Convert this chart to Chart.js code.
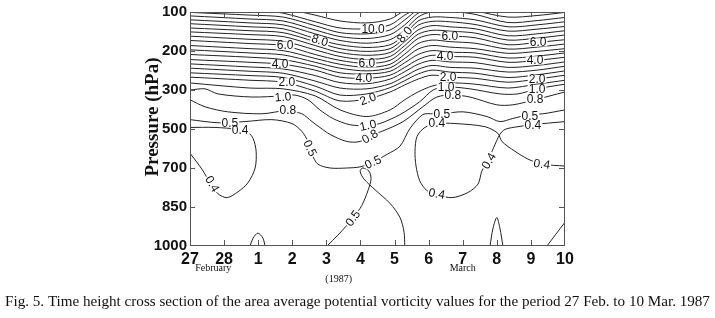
<!DOCTYPE html>
<html>
<head>
<meta charset="utf-8">
<script src="https://cdn.jsdelivr.net/npm/chart.js@4.4.0/dist/chart.umd.min.js"></script>
<style>
  html, body { margin: 0; padding: 0; background: #fff; }
  #wrap { width: 715px; height: 318px; }
</style>
</head>
<body>
<div id="wrap"><canvas id="pvChart" width="715" height="318"></canvas></div>
<script>
// ========== AXIS LABELS ==========
const dayLabels = ['27', '28', '1', '2', '3', '4', '5', '6', '7', '8', '9', '10'];
const pressureLabels = ['1000', '850', '700', '500', '300', '200', '100'];

// ========== UPPER CONTOURS (1.5 .. 10.5, step 0.5) ==========
// day index (0 = 27 Feb) shared by the upper contours
const upperX = [0, 1.76, 2.73, 3.67, 4.40, 5.19, 5.87, 6.30, 6.69, 7.10, 7.62, 8.36, 9.33, 10.18, 11];
// level index at upperX (0 = 1000 hPa ... 6 = 100 hPa)
const pv15 = [4.18, 4.05, 4.03, 3.85, 3.49, 3.32, 3.49, 3.75, 3.95, 4.10, 4.18, 4.15, 4.05, 4.15, 4.25];
const pv20 = [4.33, 4.25, 4.20, 3.97, 3.72, 3.77, 3.95, 4.13, 4.28, 4.38, 4.33, 4.30, 4.20, 4.28, 4.38];
const pv25 = [4.44, 4.37, 4.32, 4.10, 3.87, 3.90, 4.06, 4.24, 4.41, 4.51, 4.46, 4.43, 4.32, 4.39, 4.49];
const pv30 = [4.56, 4.48, 4.43, 4.23, 4.05, 4.03, 4.16, 4.35, 4.53, 4.63, 4.58, 4.56, 4.46, 4.51, 4.61];
const pv35 = [4.67, 4.59, 4.54, 4.37, 4.19, 4.16, 4.28, 4.47, 4.66, 4.76, 4.72, 4.70, 4.58, 4.63, 4.72];
const pv40 = [4.78, 4.71, 4.66, 4.51, 4.33, 4.30, 4.38, 4.58, 4.78, 4.89, 4.86, 4.84, 4.71, 4.76, 4.84];
const pv45 = [4.91, 4.84, 4.78, 4.61, 4.44, 4.41, 4.48, 4.70, 4.91, 5.01, 4.97, 4.95, 4.82, 4.87, 4.95];
const pv50 = [5.03, 4.95, 4.90, 4.71, 4.56, 4.49, 4.57, 4.81, 5.05, 5.14, 5.10, 5.06, 4.94, 4.99, 5.06];
const pv55 = [5.14, 5.06, 5.01, 4.81, 4.66, 4.58, 4.66, 4.92, 5.19, 5.28, 5.24, 5.20, 5.05, 5.10, 5.18];
const pv60 = [5.27, 5.19, 5.14, 4.91, 4.76, 4.68, 4.76, 5.04, 5.32, 5.42, 5.39, 5.34, 5.16, 5.22, 5.29];
const pv65 = [5.38, 5.30, 5.25, 5.03, 4.86, 4.78, 4.86, 5.14, 5.43, 5.53, 5.51, 5.46, 5.28, 5.33, 5.41];
const pv70 = [5.49, 5.42, 5.37, 5.14, 4.96, 4.89, 4.96, 5.24, 5.54, 5.65, 5.62, 5.57, 5.39, 5.44, 5.52];
const pv75 = [5.59, 5.52, 5.47, 5.24, 5.06, 4.99, 5.06, 5.34, 5.66, 5.76, 5.75, 5.68, 5.51, 5.56, 5.63];
const pv80 = [5.70, 5.62, 5.57, 5.32, 5.16, 5.09, 5.16, 5.42, 5.77, 5.87, 5.86, 5.80, 5.62, 5.67, 5.75];
const pv85 = [5.80, 5.72, 5.67, 5.44, 5.27, 5.20, 5.29, 5.54, 5.87, 6.01, 6.02, 5.94, 5.73, 5.78, 5.86];
const pv90 = [5.90, 5.82, 5.77, 5.54, 5.37, 5.32, 5.42, 5.67, 5.97, 6.08, null, 6.03, 5.87, 5.91, 5.99];
const pv95 = [5.99, 5.92, 5.87, 5.65, 5.47, 5.44, 5.54, 5.80, 6.08, null, null, null, null, null, null];
const pv100 = [6.18, 6.08, 5.97, 5.75, 5.59, 5.57, 5.67, 5.92, 6.10, null, null, null, null, null, null];
const pv105 = [null, null, 6.10, 5.92, 5.77, 5.72, 5.82, 6.05, null, null, null, null, null, null, null];

// ========== LOWER CONTOURS [day index, level index] ==========
const pv10 = [[0, 4.0], [0.44, 4.03], [0.82, 3.90], [1.82, 3.82], [2.73, 3.85], [3.08, 3.87], [3.46, 3.75],
  [3.81, 3.49], [4.19, 3.27], [4.69, 3.11], [5.22, 3.09], [5.57, 3.14], [6.16, 3.37], [6.74, 3.70],
  [7.13, 4.0], [7.51, 4.08], [8.21, 4.03], [9.09, 3.90], [9.62, 3.90], [10.18, 4.03], [11, 4.15]];
const pv08 = [[0, 3.75], [0.44, 3.57], [1.11, 3.44], [2.11, 3.39], [2.84, 3.47], [3.28, 3.39], [3.58, 3.19],
  [3.81, 3.04], [4.11, 2.86], [4.60, 2.68], [4.99, 2.68], [5.28, 2.84], [5.63, 2.94], [6.25, 3.19],
  [6.83, 3.57], [7.24, 3.82], [7.71, 3.87], [8.21, 3.82], [9.0, 3.62], [9.47, 3.62], [10.12, 3.75], [11, 3.95]];
const pv05 = [[0, 3.24], [0.82, 3.16], [1.61, 3.19], [2.40, 3.24], [2.99, 3.14], [3.28, 2.94], [3.46, 2.68],
  [3.58, 2.35], [3.75, 2.10], [4.11, 2.0], [4.60, 2.0], [4.99, 2.03], [5.37, 2.15], [5.78, 2.35],
  [6.16, 2.56], [6.45, 3.01], [6.83, 3.37], [7.13, 3.39], [7.39, 3.39], [8.01, 3.44], [8.71, 3.32],
  [9.09, 3.19], [9.47, 3.27], [9.97, 3.37], [10.35, 3.39], [11, 3.49]];
const pv05Saddle = [[4.02, 0], [4.34, 0.28], [4.60, 0.53], [4.78, 0.71], [5.04, 1.04], [5.22, 1.42],
  [5.31, 1.72], [5.25, 1.92], [5.07, 2.0], [4.99, 1.92], [5.10, 1.72], [5.43, 1.44], [5.87, 1.09],
  [6.16, 0.73], [6.28, 0.35], [6.30, 0]];
const pv04West = [[0, 3.04], [0.73, 3.04], [1.41, 2.99], [1.70, 2.91], [1.85, 2.76], [1.94, 2.43],
  [1.91, 2.0], [1.70, 1.62], [1.41, 1.39], [1.09, 1.24], [0.82, 1.34], [0.59, 1.62], [0.35, 1.97], [0, 2.38]];
const pv04East = [[11, 2.05], [10.32, 2.10], [9.91, 2.23], [9.53, 2.43], [9.15, 2.68], [9.03, 2.89],
  [8.65, 3.06], [7.77, 3.14], [7.24, 3.14], [6.89, 3.04], [6.66, 2.81], [6.60, 2.43], [6.63, 2.05],
  [6.74, 1.67], [6.95, 1.42], [7.24, 1.32], [7.68, 1.24], [8.15, 1.37], [8.45, 1.59], [8.56, 1.92],
  [8.74, 2.18], [8.91, 2.53], [9.09, 2.86], [9.24, 2.99], [9.62, 3.06], [10.03, 3.11], [11, 3.19]];
const cellMar1 = [[1.76, 0], [1.85, 0.20], [1.99, 0.33], [2.14, 0.20], [2.20, 0]];
const cellMar8 = [[8.80, 0], [8.89, 0.46], [9.0, 0.73], [9.09, 0.46], [9.18, 0]];
const cellMar10 = [[10.47, 0], [10.73, 0.30], [11, 0.61]];

// ========== CONTOUR LABELS [text, day index, level index, angle] ==========
const contourLabels = [
  ['10.0', 5.37, 5.57, 0], ['8.0', 3.81, 5.27, 18], ['8.0', 6.30, 5.42, -50],
  ['6.0', 2.79, 5.14, 0], ['6.0', 5.19, 4.68, 0], ['6.0', 7.62, 5.39, 0], ['6.0', 10.21, 5.22, 0],
  ['4.0', 2.64, 4.66, 0], ['4.0', 5.10, 4.30, 0], ['4.0', 7.48, 4.86, 0], ['4.0', 10.12, 4.76, 0],
  ['2.0', 2.84, 4.20, 0], ['2.0', 5.22, 3.77, -20], ['2.0', 7.57, 4.33, 0], ['2.0', 10.18, 4.28, 0],
  ['1.0', 2.73, 3.82, -5], ['1.0', 5.22, 3.09, -12], ['1.0', 7.51, 4.08, 0], ['1.0', 10.18, 4.03, 0],
  ['0.8', 2.87, 3.49, 0], ['0.8', 5.28, 2.81, -30], ['0.8', 7.71, 3.87, 0], ['0.8', 10.12, 3.77, 0],
  ['0.5', 1.17, 3.16, 0], ['0.4', 1.47, 2.96, 0], ['0.5', 3.52, 2.51, 65], ['0.5', 5.37, 2.15, -25],
  ['0.5', 7.39, 3.39, 0], ['0.4', 7.24, 3.14, 0], ['0.5', 9.97, 3.34, 0], ['0.4', 10.06, 3.11, 0],
  ['0.4', 0.65, 1.59, 60], ['0.4', 7.24, 1.34, 10], ['0.4', 8.77, 2.18, -60], ['0.4', 10.32, 2.10, 8],
  ['0.5', 4.78, 0.71, -55]
];

// ========== BUILD DATASETS ==========
const upperLevels = [pv15, pv20, pv25, pv30, pv35, pv40, pv45, pv50, pv55, pv60, pv65, pv70, pv75, pv80, pv85, pv90, pv95, pv100, pv105];
const lowerLines = [pv10, pv08, pv05, pv05Saddle, pv04West, pv04East, cellMar1, cellMar8, cellMar10];

function lineDataset(points) {
  return {
    data: points,
    showLine: true,
    borderColor: '#222',
    borderWidth: 1,
    pointRadius: 0,
    tension: 0.3,
    spanGaps: false
  };
}

const datasets = [
  ...upperLevels.map(ys => lineDataset(upperX.map((x, i) => ({ x, y: ys[i] })))),
  ...lowerLines.map(pts => lineDataset(pts.map(([x, y]) => ({ x, y }))))
];

// ========== OVERLAY: FRAME, TICKS, LABELS, CAPTION ==========
const overlayPlugin = {
  id: 'overlay',
  afterDatasetsDraw(chart) {
    const { ctx, chartArea: a, scales: { x, y } } = chart;
    ctx.save();

    // contour labels with white knock-out
    ctx.font = '12px "Liberation Sans", Arial, sans-serif';
    ctx.textAlign = 'center';
    ctx.textBaseline = 'middle';
    contourLabels.forEach(([text, lx, ly, rot]) => {
      const px = x.getPixelForValue(lx);
      const py = y.getPixelForValue(ly);
      ctx.save();
      ctx.translate(px, py);
      ctx.rotate(rot * Math.PI / 180);
      const w = ctx.measureText(text).width;
      ctx.fillStyle = '#fff';
      ctx.fillRect(-w / 2 - 1, -4, w + 2, 8);
      ctx.fillStyle = '#111';
      ctx.fillText(text, 0, 0.5);
      ctx.restore();
    });

    // frame
    ctx.strokeStyle = '#555';
    ctx.lineWidth = 1;
    ctx.strokeRect(a.left + 0.5, a.top + 0.5, a.right - a.left - 1, a.bottom - a.top - 1);

    // inward ticks
    ctx.beginPath();
    for (let i = 1; i < dayLabels.length - 1; i++) {
      const px = Math.round(x.getPixelForValue(i)) + 0.5;
      ctx.moveTo(px, a.top); ctx.lineTo(px, a.top + 5);
      ctx.moveTo(px, a.bottom); ctx.lineTo(px, a.bottom - 6);
    }
    for (let j = 1; j < pressureLabels.length - 1; j++) {
      const py = Math.round(y.getPixelForValue(j)) + 0.5;
      ctx.moveTo(a.left, py); ctx.lineTo(a.left + 5, py);
      ctx.moveTo(a.right, py); ctx.lineTo(a.right - 6, py);
    }
    ctx.stroke();

    // axis title
    ctx.fillStyle = '#111';
    ctx.font = 'bold 19px "Liberation Serif", "Times New Roman", serif';
    ctx.save();
    ctx.translate(153, 117);
    ctx.rotate(-Math.PI / 2);
    ctx.fillText('Pressure (hPa)', 0, 0);
    ctx.restore();

    // month and year notes
    ctx.font = '10px "Liberation Serif", "Times New Roman", serif';
    ctx.fillText('February', x.getPixelForValue(0.68), a.bottom + 22);
    ctx.fillText('March', x.getPixelForValue(8), a.bottom + 22);
    ctx.fillText('(1987)', x.getPixelForValue(4.36), a.bottom + 33);

    // caption, fitted to the page width
    const caption = 'Fig. 5. Time height cross section of the area average potential vorticity values for the period 27 Feb. to 10 Mar. 1987';
    ctx.font = '14px "Liberation Serif", "Times New Roman", serif';
    const size = 14 * 705 / ctx.measureText(caption).width;
    ctx.font = size.toFixed(2) + 'px "Liberation Serif", "Times New Roman", serif';
    ctx.fillText(caption, 357.5, 302);

    ctx.restore();
  }
};

// ========== CHART ==========
const pvChart = new Chart(document.getElementById('pvChart'), {
  type: 'scatter',
  data: { datasets },
  options: {
    responsive: false,
    animation: false,
    devicePixelRatio: 1,
    layout: { padding: { top: 9, right: 150, left: 0, bottom: 0 } },
    plugins: { legend: { display: false }, tooltip: { enabled: false } },
    scales: {
      x: {
        type: 'linear',
        min: 0,
        max: 11,
        afterFit: scale => { scale.height = 72; },
        grid: { display: false, drawTicks: false },
        border: { display: false },
        ticks: {
          stepSize: 1,
          autoSkip: false,
          maxRotation: 0,
          padding: 4,
          color: '#111',
          font: { family: '"Liberation Sans", Arial, sans-serif', size: 16, weight: 'bold' },
          callback: v => dayLabels[v]
        }
      },
      y: {
        type: 'linear',
        min: 0,
        max: 6,
        afterFit: scale => { scale.width = 190; },
        grid: { display: false, drawTicks: false },
        border: { display: false },
        ticks: {
          stepSize: 1,
          autoSkip: false,
          padding: 3,
          color: '#111',
          font: { family: '"Liberation Sans", Arial, sans-serif', size: 15, weight: 'bold' },
          callback: v => pressureLabels[v]
        }
      }
    }
  },
  plugins: [overlayPlugin]
});
</script>
</body>
</html>
